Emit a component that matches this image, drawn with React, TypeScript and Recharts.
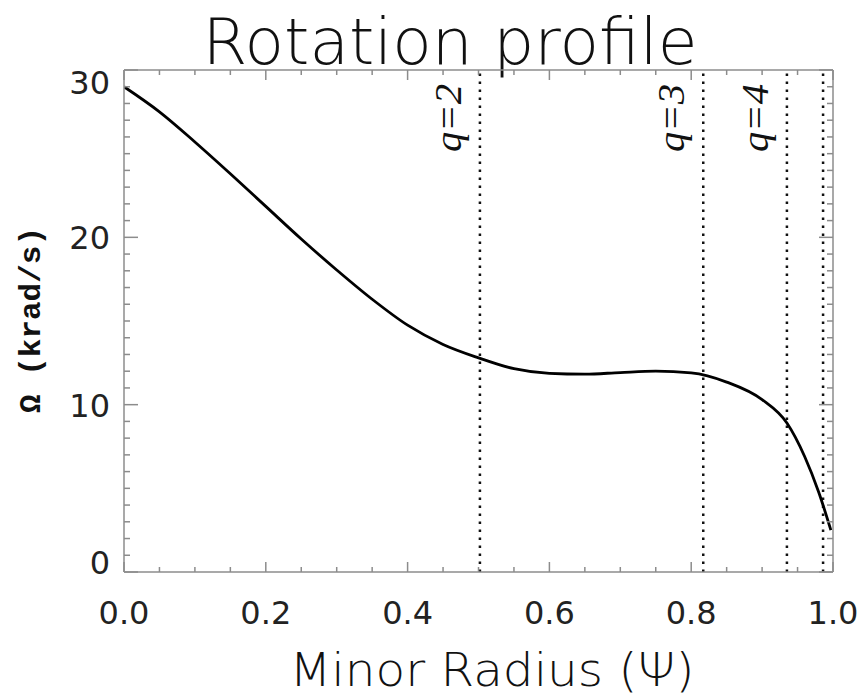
import { LineChart, Line, XAxis, YAxis, ReferenceLine, Customized } from 'recharts'

// minor radius and rotation (krad/s)
const RADIUS = [0, 0.05, 0.1, 0.15, 0.2, 0.25, 0.3, 0.35, 0.4, 0.45, 0.5, 0.55, 0.6, 0.65, 0.7, 0.75, 0.8, 0.85, 0.9, 0.935, 0.96, 0.98, 0.997]
const OMEGA = [29.0, 27.5, 25.7, 23.8, 21.85, 19.9, 18.05, 16.3, 14.75, 13.6, 12.8, 12.15, 11.87, 11.82, 11.92, 12.0, 11.9, 11.35, 10.3, 8.9, 6.9, 4.75, 2.5]

// rational surfaces
const Q_POS = [0.502, 0.817, 0.935, 0.986]
const Q_LABELS = ['q=2', 'q=3', 'q=4', '']

const X_MAJOR = [0, 0.2, 0.4, 0.6, 0.8, 1.0]
const Y_MAJOR = [0, 10, 20, 30]
const X_TICKS = Array.from({ length: 21 }, (_, i) => i * 0.05)
const Y_TICKS = Array.from({ length: 31 }, (_, i) => i)

const data = RADIUS.map((r, i) => ({ r, omega: OMEGA[i] }))

const AXIS = '#8c8c8c'
const FONT = '"DejaVu Sans", sans-serif'

const isMajorX = (v: number) => X_MAJOR.some((m) => Math.abs(m - v) < 1e-6)
const isMajorY = (v: number) => Y_MAJOR.includes(v)

function BottomTick({ x, y, payload }: any) {
  const major = isMajorX(payload.value)
  return (
    <g>
      <line x1={x} x2={x} y1={y} y2={y - (major ? 10 : 5)} stroke={AXIS} strokeWidth={1.5} />
      {major && (
        <text x={x} y={y + 52} textAnchor="middle" fontSize={32} fontFamily={FONT} fill="#222">
          {payload.value.toFixed(1)}
        </text>
      )}
    </g>
  )
}

function TopTick({ x, y, payload }: any) {
  const major = isMajorX(payload.value)
  return <line x1={x} x2={x} y1={y} y2={y + (major ? 10 : 5)} stroke={AXIS} strokeWidth={1.5} />
}

function LeftTick({ x, y, payload }: any) {
  const major = isMajorY(payload.value)
  // the end labels sit inside the axis range
  let dy = 0
  if (payload.value === 30) dy = 12
  if (payload.value === 0) dy = -10
  return (
    <g>
      <line x1={x} x2={x + (major ? 14 : 6)} y1={y} y2={y} stroke={AXIS} strokeWidth={1.5} />
      {major && (
        <text x={x - 14} y={y + dy + 12} textAnchor="end" fontSize={32} fontFamily={FONT} fill="#222">
          {payload.value}
        </text>
      )}
    </g>
  )
}

function RightTick({ x, y, payload }: any) {
  const major = isMajorY(payload.value)
  return <line x1={x} x2={x - (major ? 14 : 6)} y1={y} y2={y} stroke={AXIS} strokeWidth={1.5} />
}

function QLabel({ viewBox, text }: any) {
  if (!text || !viewBox) return null
  const bx = viewBox.x - 19
  const cy = 118
  return (
    <text
      transform={`translate(${bx}, ${cy}) rotate(-90)`}
      textAnchor="middle"
      fontSize={37}
      fontStyle="italic"
      fontFamily='"Liberation Serif", serif'
      textLength={68}
      lengthAdjust="spacingAndGlyphs"
      fill="#111"
    >
      {text}
    </text>
  )
}

function Titles() {
  return (
    <g>
      <text x={450} y={64} textAnchor="middle" fontSize={64} fontWeight={300} fontFamily={FONT} textLength={495} lengthAdjust="spacingAndGlyphs" fill="#111">
        Rotation profile
      </text>
      <text x={492} y={686} textAnchor="middle" fontSize={47} fontWeight={300} fontFamily={FONT} textLength={405} lengthAdjust="spacingAndGlyphs" fill="#111">
        Minor Radius (Ψ)
      </text>
      <text
        transform="translate(40, 320) rotate(-90)"
        textAnchor="middle"
        fontSize={30}
        fontWeight="bold"
        fontFamily='"Liberation Mono", monospace'
        textLength={186}
        lengthAdjust="spacingAndGlyphs"
        fill="#111"
      >
        Ω (krad/s)
      </text>
    </g>
  )
}

export default function App() {
  return (
    <div style={{ position: 'absolute', left: 0, top: 0, background: '#fff' }}>
      <LineChart width={863} height={698} data={data} margin={{ top: 69, right: 29, bottom: 66, left: 0 }}>
        <XAxis
          dataKey="r"
          type="number"
          domain={[0, 1]}
          ticks={X_TICKS}
          interval={0}
          tickSize={0}
          tickMargin={0}
          tick={<BottomTick />}
          axisLine={{ stroke: AXIS, strokeWidth: 1.5 }}
          height={60}
          allowDataOverflow
        />
        <XAxis
          xAxisId="top"
          dataKey="r"
          orientation="top"
          type="number"
          domain={[0, 1]}
          ticks={X_TICKS}
          interval={0}
          tickSize={0}
          tickMargin={0}
          tick={<TopTick />}
          axisLine={{ stroke: AXIS, strokeWidth: 1.5 }}
          height={1}
          allowDataOverflow
        />
        <YAxis
          type="number"
          domain={[0, 30]}
          ticks={Y_TICKS}
          interval={0}
          tickSize={0}
          tickMargin={0}
          tick={<LeftTick />}
          axisLine={{ stroke: AXIS, strokeWidth: 1.5 }}
          width={124}
          allowDataOverflow
        />
        <YAxis
          yAxisId="right"
          dataKey="omega"
          orientation="right"
          type="number"
          domain={[0, 30]}
          ticks={Y_TICKS}
          interval={0}
          tickSize={0}
          tickMargin={0}
          tick={<RightTick />}
          axisLine={{ stroke: AXIS, strokeWidth: 1.5 }}
          width={1}
          allowDataOverflow
        />
        {Q_POS.map((q, i) => (
          <ReferenceLine
            key={q}
            x={q}
            stroke="#111"
            strokeWidth={2.5}
            strokeDasharray="2.5 5.5"
            label={<QLabel text={Q_LABELS[i]} />}
          />
        ))}
        <Line
          type="monotone"
          dataKey="omega"
          stroke="#000"
          strokeWidth={2.8}
          dot={false}
          isAnimationActive={false}
        />
        <Customized component={Titles} />
      </LineChart>
    </div>
  )
}
